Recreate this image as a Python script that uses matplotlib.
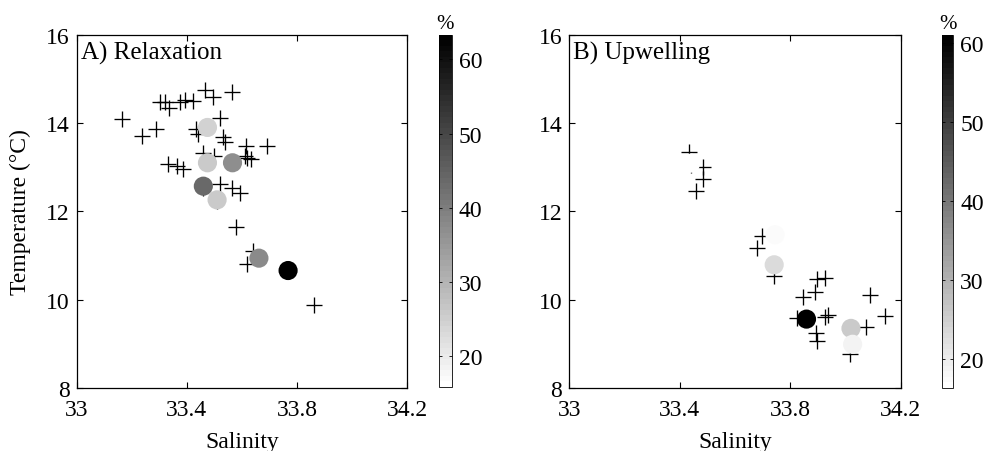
import matplotlib
matplotlib.use("Agg")
import matplotlib.pyplot as plt
from matplotlib.colors import Normalize
from matplotlib import cm

plt.rcParams["font.family"] = ["Liberation Serif", "DejaVu Serif"]
plt.rcParams["font.size"] = 15

# Relaxation panel: CTD stations (crosses) and mooring samples (circles)
relax_cross_sal = [33.166, 33.236, 33.288, 33.302, 33.321, 33.336, 33.375, 33.393, 33.423,
                   33.466, 33.496, 33.563, 33.520, 33.433, 33.439, 33.532, 33.538, 33.615,
                   33.690, 33.460, 33.500, 33.611, 33.617, 33.635, 33.333, 33.365, 33.387,
                   33.520, 33.563, 33.595, 33.460, 33.510, 33.577, 33.641, 33.617, 33.862,
                   33.475]
relax_cross_temp = [14.09, 13.70, 13.86, 14.48, 14.47, 14.33, 14.47, 14.52, 14.51,
                    14.75, 14.58, 14.71, 14.11, 13.86, 13.75, 13.68, 13.58, 13.49,
                    13.49, 13.31, 13.26, 13.26, 13.20, 13.19, 13.07, 13.03, 12.96,
                    12.62, 12.54, 12.42, 12.54, 12.24, 11.64, 11.11, 10.81, 9.89,
                    13.90]
relax_dot_sal = [33.475, 33.475, 33.566, 33.460, 33.510, 33.662, 33.768]
relax_dot_temp = [13.90, 13.10, 13.10, 12.57, 12.26, 10.94, 10.66]
relax_dot_pct = [24.5, 25.5, 37.0, 44.0, 25.5, 38.0, 63.0]

# Upwelling panel
upw_cross_sal = [33.434, 33.485, 33.485, 33.459, 33.440, 33.697, 33.681, 33.742, 33.846,
                 33.898, 33.926, 33.890, 34.089, 33.938, 33.926, 34.143, 34.074, 33.893,
                 33.898, 34.016, 33.823]
upw_cross_temp = [13.35, 13.00, 12.73, 12.45, 13.05, 11.45, 11.16, 10.53, 10.06,
                  10.47, 10.49, 10.18, 10.11, 9.65, 9.60, 9.62, 9.37, 9.25,
                  9.07, 8.77, 9.58]
upw_dot_sal = [33.440, 33.745, 33.742, 33.859, 34.020, 34.026]
upw_dot_temp = [13.09, 11.47, 10.79, 9.56, 9.35, 8.99]
upw_dot_pct = [16.8, 17.3, 23.0, 61.0, 25.5, 18.5]

x_ticks = [33, 33.4, 33.8, 34.2]
y_ticks = [8, 10, 12, 14, 16]
cb_ticks = [20, 30, 40, 50, 60]

cmap = plt.get_cmap("gray_r", 64)

fig = plt.figure(figsize=(9.89, 4.52), dpi=100)
fig.patch.set_facecolor("white")

panels = [
    ([0.0776, 0.1394, 0.3339, 0.7816], [0.4442, 0.1416, 0.0125, 0.7788],
     relax_cross_sal, relax_cross_temp, relax_dot_sal, relax_dot_temp, relax_dot_pct,
     (15.8, 63.3), "A) Relaxation", True),
    ([0.5756, 0.1394, 0.3351, 0.7816], [0.9522, 0.1394, 0.0117, 0.7810],
     upw_cross_sal, upw_cross_temp, upw_dot_sal, upw_dot_temp, upw_dot_pct,
     (16.3, 61.0), "B) Upwelling", False),
]

for (pos, cpos, cs, ct, ds, dt, dp, lims, title, ylab) in panels:
    ax = fig.add_axes(pos)
    ax.scatter(cs, ct, marker="+", s=130, color="black", linewidths=0.95, zorder=2)
    norm = Normalize(vmin=lims[0], vmax=lims[1])
    ax.scatter(ds, dt, c=dp, cmap=cmap, norm=norm, s=190, edgecolors="none", zorder=3)
    ax.set_xlim(33, 34.2)
    ax.set_ylim(8, 16)
    ax.set_xticks(x_ticks)
    ax.set_xticklabels(["33", "33.4", "33.8", "34.2"])
    ax.set_yticks(y_ticks)
    ax.tick_params(direction="in", top=True, right=True, length=4, width=0.8,
                   labelsize=17)
    ax.tick_params(axis="x", pad=8)
    ax.tick_params(axis="y", pad=5)
    for sp in ax.spines.values():
        sp.set_linewidth(0.9)
    ax.set_xlabel("Salinity", fontsize=17, labelpad=8)
    if ylab:
        ax.set_ylabel("Temperature (°C)", fontsize=17, labelpad=11)
    ax.text(0.012, 0.95, title, transform=ax.transAxes, fontsize=18,
            ha="left", va="center")

    cax = fig.add_axes(cpos)
    cb = fig.colorbar(cm.ScalarMappable(norm=norm, cmap=cmap), cax=cax)
    cb.set_ticks(cb_ticks)
    cb.outline.set_linewidth(0.6)
    cax.tick_params(direction="in", length=2, width=0.6, labelsize=17, pad=5,
                    left=True, right=True)
    cax.set_title("%", fontsize=15, pad=5)

fig.savefig("out.png", dpi=100, facecolor="white")
